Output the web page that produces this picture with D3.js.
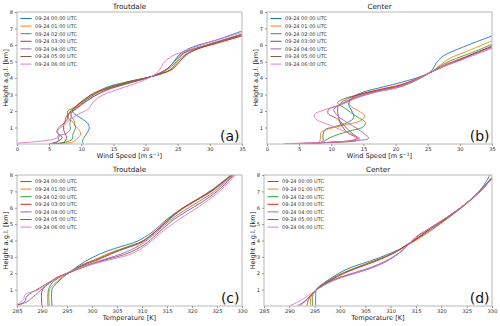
<!DOCTYPE html>
<html>
<head>
<meta charset="utf-8">
<script src="https://cdn.jsdelivr.net/npm/d3@7"></script>
<style>
  body { margin: 0; background: #fff; }
  svg { font-family: "DejaVu Sans", sans-serif; }
</style>
</head>
<body>
<div id="chart"></div>
<script>
// legend entries and colours (matplotlib tab10)
const times = ["09-24 00:00 UTC", "09-24 01:00 UTC", "09-24 02:00 UTC", "09-24 03:00 UTC",
  "09-24 04:00 UTC", "09-24 05:00 UTC", "09-24 06:00 UTC"];
const colors = ["#1f77b4", "#ff7f0e", "#2ca02c", "#d62728", "#9467bd", "#8c564b", "#e377c2"];

const speedTicks = [0, 5, 10, 15, 20, 25, 30, 35];
const tempTicks = [285, 290, 295, 300, 305, 310, 315, 320, 325, 330];
const heightTicks = [1, 2, 3, 4, 5, 6, 7, 8];

// [wind speed m/s, height km] - Troutdale
const speedTroutdale = [
  [[10.3,0.02],[10.2,0.2],[10.6,0.5],[11.2,0.9],[11.1,1.2],[10.2,1.5],[9.2,1.75],[8.6,2.0],[9.2,2.3],[10.5,2.7],[12,3.05],[14,3.45],[17,3.75],[21,4.1],[22.5,4.3],[24,4.8],[25.5,5.5],[27.5,5.9],[31,6.3],[35,6.85]],
  [[5.5,0.02],[8.5,0.1],[9.3,0.3],[9.9,0.6],[9.6,0.9],[9.0,1.1],[8.9,1.4],[8.4,1.7],[8.3,2.0],[9.5,2.3],[11,2.75],[13,3.2],[16,3.6],[21,4.1],[24,4.5],[25.3,5.0],[26.3,5.4],[28,5.75],[31,6.1],[35,6.55]],
  [[5.5,0.02],[7.5,0.1],[8.6,0.3],[8.7,0.6],[9.1,1.0],[8.8,1.3],[8.1,1.5],[7.9,2.0],[8.6,2.15],[10,2.5],[12,3.0],[14,3.4],[17,3.75],[21,4.1],[23.8,4.5],[25,5.0],[26.3,5.45],[28,5.75],[31,6.15],[35,6.6]],
  [[5.5,0.02],[7.3,0.1],[7.7,0.4],[7.3,0.8],[7.3,1.2],[7.8,1.5],[8.0,1.8],[9,2.2],[10,2.55],[12,3.1],[13.5,3.3],[17,3.7],[21,4.1],[24,4.5],[25.3,5.0],[26.3,5.4],[28,5.75],[31,6.1],[35,6.55]],
  [[5.5,0.02],[6.5,0.2],[6.4,0.5],[7.5,0.6],[8.3,0.9],[8.2,1.2],[8.4,1.6],[8.5,1.9],[9.5,2.2],[10.5,2.5],[12.5,3.0],[15,3.4],[18,3.75],[21,4.1],[23.7,4.6],[24.8,5.0],[26,5.5],[28,5.8],[31,6.2],[35,6.65]],
  [[5,0.02],[6.3,0.15],[7.0,0.4],[6.2,0.7],[6.5,1.0],[7.4,1.3],[7.7,1.7],[8.7,2.0],[10,2.4],[12,2.9],[14,3.3],[17,3.65],[21,4.1],[23.5,4.6],[24.5,5.0],[25.8,5.5],[27.8,5.8],[31,6.15],[35,6.65]],
  [[0,0.05],[3,0.15],[5.8,0.3],[6.7,0.5],[6.3,0.8],[6.8,1.0],[7.5,1.2],[8,1.4],[9.5,1.8],[11,2.1],[12,2.6],[13.5,3.0],[16,3.35],[19,3.75],[21,4.1],[22,4.4],[23,5.0],[24.5,5.4],[26,5.6],[28,5.9],[31,6.3],[35,6.75]]
];

// [wind speed m/s, height km] - Center
const speedCenter = [
  [[3,0.02],[8,0.05],[8.7,0.2],[8.7,0.5],[9.0,0.85],[10.5,1.05],[12.5,1.3],[13.5,1.6],[13.2,2.0],[12.7,2.4],[13.2,2.8],[15,3.15],[18,3.45],[21,3.75],[24,4.1],[25.5,4.4],[26.5,5.0],[27.5,5.35],[30,5.8],[35,6.55]],
  [[3,0.02],[8,0.08],[8.3,0.3],[8.4,0.7],[9.5,0.9],[12,1.15],[14.5,1.4],[15.2,1.7],[14.3,2.0],[13,2.3],[12.8,2.6],[14.5,3.0],[18,3.35],[22,3.75],[25.5,4.35],[27,4.8],[28.5,5.2],[31,5.6],[35,6.25]],
  [[3,0.02],[8.5,0.08],[9.2,0.25],[10.5,0.5],[13,0.8],[15,1.05],[15.3,1.3],[14,1.65],[12,2.2],[11,2.5],[12,2.75],[14.5,3.0],[18,3.3],[22,3.65],[25.5,4.35],[27.5,4.85],[29.5,5.2],[32,5.55],[35,6.05]],
  [[4,0.02],[10,0.1],[13.5,0.25],[14,0.35],[12.5,0.7],[11.5,1.2],[11.1,1.7],[11,2.2],[11.5,2.5],[13.5,2.9],[17,3.25],[21,3.6],[25.5,4.35],[27.7,4.8],[30,5.15],[32,5.45],[35,5.95]],
  [[5,0.02],[10,0.1],[14,0.2],[15.8,0.35],[14.5,0.8],[12.5,1.3],[11,1.7],[10.4,2.1],[11.5,2.4],[13.5,2.8],[17,3.2],[21,3.55],[25.5,4.35],[27.8,4.75],[30,5.1],[32,5.4],[35,5.85]],
  [[4,0.02],[10,0.1],[13.8,0.2],[14.2,0.3],[12.8,0.8],[11,1.5],[9.5,1.85],[9.6,2.1],[11.2,2.35],[13.5,2.75],[17,3.15],[21,3.5],[25.5,4.35],[27.8,4.75],[30,5.1],[32,5.45],[35,5.9]],
  [[2.5,0.02],[9,0.1],[13.5,0.2],[14.5,0.3],[12.5,0.7],[10,1.1],[7.5,1.55],[7.4,1.8],[8.4,2.0],[10,2.2],[12,2.45],[14,2.8],[17,3.15],[21,3.5],[25.5,4.35],[27.8,4.75],[30,5.05],[32,5.35],[35,5.8]]
];

// [temperature K, height km] - Troutdale
const tempTroutdale = [
  [[292,0],[292,1.0],[292.5,1.25],[294,1.7],[295.5,2.05],[297.5,2.5],[300,2.95],[303,3.35],[306,3.65],[309,3.95],[312,4.5],[315,5.3],[318,5.95],[321,6.5],[324,7.1],[327.8,8]],
  [[291.5,0],[291.5,1.0],[292.3,1.3],[294,1.75],[295.5,2.05],[298,2.5],[301,2.9],[304,3.3],[307,3.6],[310,3.95],[312.5,4.5],[315.5,5.3],[318,5.9],[321,6.45],[324,7.0],[328,8]],
  [[291.2,0],[291.3,1.0],[292,1.4],[293.5,1.75],[295.3,2.05],[298,2.5],[301,2.85],[304,3.25],[307,3.6],[310,3.95],[312.5,4.5],[315.5,5.3],[318,5.95],[321,6.5],[324,7.05],[327.8,8]],
  [[290,0],[290,0.9],[291,1.3],[293,1.75],[295,2.0],[298,2.45],[301,2.8],[304,3.2],[307,3.55],[310,3.9],[312.5,4.5],[315.3,5.3],[318,5.95],[321,6.5],[324,7.05],[328,8]],
  [[285,0.05],[287,0.25],[288,0.5],[289.5,0.9],[291.5,1.4],[293.5,1.8],[295.5,2.05],[299,2.5],[302,2.8],[306,3.2],[309.5,3.7],[312.5,4.4],[315.5,5.2],[318.5,5.85],[321.5,6.4],[324.5,7.0],[328.2,8]],
  [[285,0.05],[286.5,0.25],[287,0.6],[289.5,1.1],[292,1.55],[294,1.85],[296,2.1],[299.5,2.5],[303,2.85],[307,3.2],[310.5,3.75],[313,4.4],[316,5.2],[319,5.8],[322,6.35],[325,7.0],[328.4,8]],
  [[285,0.1],[286.3,0.4],[286.6,0.7],[289,0.95],[291.5,1.45],[294,1.85],[296,2.15],[300,2.55],[304,2.85],[308,3.2],[311,3.75],[313.5,4.4],[316.5,5.1],[319.5,5.7],[322.5,6.3],[325.5,7.0],[328.7,8]]
];

// [temperature K, height km] - Center
const tempCenter = [
  [[295.2,0],[295.2,0.7],[295.3,1.0],[297,1.45],[299,1.85],[301,2.2],[303,2.45],[306,2.75],[309,3.1],[312,3.5],[315,4.05],[318,4.65],[321,5.3],[324,6.0],[326,6.55],[328,7.2],[329.6,8]],
  [[294.2,0],[294.3,0.6],[295.2,0.95],[297,1.4],[299.5,1.85],[302,2.2],[305,2.55],[308,2.9],[311,3.3],[313,3.65],[315,4.0],[317,4.4],[320,5.05],[323,5.8],[326,6.5],[328,7.1],[330,7.8]],
  [[294.6,0],[294.6,0.6],[295.2,0.95],[297,1.4],[299.5,1.85],[302,2.2],[305,2.55],[308,2.9],[311,3.3],[313,3.7],[315.5,4.2],[318,4.75],[321,5.35],[324,6.05],[326,6.55],[328,7.15],[330,7.85]],
  [[293.5,0],[293.8,0.4],[295,0.9],[297,1.35],[299.5,1.8],[302,2.15],[305,2.5],[308,2.85],[311,3.3],[313,3.7],[315.5,4.2],[318,4.75],[321,5.35],[324,6.05],[326,6.55],[328,7.15],[330,7.85]],
  [[291.5,0],[293.5,0.4],[295,0.9],[297,1.3],[300,1.75],[303,2.05],[306,2.35],[309,2.75],[311.5,3.2],[313,3.6],[315,4.2],[318,4.8],[321,5.4],[324,6.05],[326,6.55],[328,7.1],[330,7.8]],
  [[292,0],[293.5,0.4],[295,0.9],[297,1.35],[300,1.75],[303,2.0],[306,2.3],[309,2.7],[311.5,3.2],[313,3.6],[315,4.2],[318,4.8],[321,5.4],[324,6.05],[326,6.55],[328,7.1],[330,7.8]],
  [[290,0],[292,0.3],[293.5,0.6],[295,0.9],[297,1.3],[300,1.7],[303,2.0],[306,2.3],[309,2.7],[311.5,3.2],[313,3.6],[315,4.2],[318,4.8],[321,5.4],[324,6.05],[326,6.55],[328,7.1],[330,7.8]]
];

const width = 500, height = 326;
const svg = d3.select("#chart").append("svg")
  .attr("width", width)
  .attr("height", height);

const panels = [
  { title: "Troutdale", tag: "(a)", data: speedTroutdale, box: [17, 12, 242, 144], xDomain: [0, 35], xTicks: speedTicks, xLabel: "speed" },
  { title: "Center", tag: "(b)", data: speedCenter, box: [267, 12, 492, 144], xDomain: [0, 35], xTicks: speedTicks, xLabel: "speed" },
  { title: "Troutdale", tag: "(c)", data: tempTroutdale, box: [17, 175, 242, 306], xDomain: [285, 330], xTicks: tempTicks, xLabel: "temp" },
  { title: "Center", tag: "(d)", data: tempCenter, box: [264, 175, 492, 306], xDomain: [285, 330], xTicks: tempTicks, xLabel: "temp" }
];

panels.forEach((p, pi) => {
  const [x0, y0, x1, y1] = p.box;
  const x = d3.scaleLinear().domain(p.xDomain).range([x0, x1]);
  const y = d3.scaleLinear().domain([0, 8]).range([y1, y0]);
  const g = svg.append("g");

  g.append("clipPath").attr("id", "clip" + pi)
    .append("rect").attr("x", x0).attr("y", y0).attr("width", x1 - x0).attr("height", y1 - y0);

  const line = d3.line()
    .x(d => x(d[0]))
    .y(d => y(d[1]))
    .curve(d3.curveCatmullRom.alpha(0.5));

  g.append("g").attr("clip-path", `url(#clip${pi})`)
    .selectAll("path")
    .data(p.data)
    .enter()
    .append("path")
    .attr("d", line)
    .attr("fill", "none")
    .attr("stroke", (d, i) => colors[i])
    .attr("stroke-width", 1)
    .attr("stroke-opacity", 0.9);

  // frame
  g.append("rect")
    .attr("x", x0).attr("y", y0)
    .attr("width", x1 - x0).attr("height", y1 - y0)
    .attr("fill", "none")
    .attr("stroke", "#b8b8b8")
    .attr("stroke-width", 1);

  const xAxis = g.append("g")
    .attr("transform", `translate(0,${y1})`)
    .call(d3.axisBottom(x).tickValues(p.xTicks).tickSize(2).tickPadding(1.5));
  const yAxis = g.append("g")
    .attr("transform", `translate(${x0},0)`)
    .call(d3.axisLeft(y).tickValues(heightTicks).tickSize(2).tickPadding(2));
  [xAxis, yAxis].forEach(a => {
    a.select(".domain").remove();
    a.selectAll("line").attr("stroke", "#999");
    a.selectAll("text").attr("font-size", 5.2).attr("fill", "#333")
      .attr("font-family", "DejaVu Sans, sans-serif");
  });

  g.append("text")
    .attr("x", (x0 + x1) / 2).attr("y", y0 - 3.5)
    .attr("text-anchor", "middle")
    .attr("font-size", 7.2)
    .attr("fill", "#222")
    .text(p.title);

  const xl = g.append("text")
    .attr("x", (x0 + x1) / 2).attr("y", y1 + 14)
    .attr("text-anchor", "middle")
    .attr("font-size", 6.6)
    .attr("fill", "#222");
  if (p.xLabel === "speed") {
    xl.append("tspan").text("Wind Speed [m s");
    xl.append("tspan").attr("dy", -2.5).attr("font-size", 4.6).text("\u22121");
    xl.append("tspan").attr("dy", 2.5).text("]");
  } else {
    xl.text("Temperature [K]");
  }

  g.append("text")
    .attr("transform", `translate(${x0 - 9.5},${(y0 + y1) / 2}) rotate(-90)`)
    .attr("text-anchor", "middle")
    .attr("font-size", 6.6)
    .attr("fill", "#222")
    .text("Height a.g.l. [km]");

  g.append("text")
    .attr("x", x1 - 2.5).attr("y", y1 - 3)
    .attr("text-anchor", "end")
    .attr("font-size", 14)
    .attr("fill", "#111")
    .text(p.tag);

  // legend
  const leg = g.append("g").attr("transform", `translate(${x0},${y0})`);
  times.forEach((t, i) => {
    const ly = 6.5 + i * 7.6;
    leg.append("line")
      .attr("x1", 3.5).attr("x2", 14.5)
      .attr("y1", ly).attr("y2", ly)
      .attr("stroke", colors[i]).attr("stroke-width", 1);
    leg.append("text")
      .attr("x", 18).attr("y", ly + 1.8)
      .attr("font-size", 5.0)
      .attr("fill", "#333")
      .text(t);
  });
});
</script>
</body>
</html>
